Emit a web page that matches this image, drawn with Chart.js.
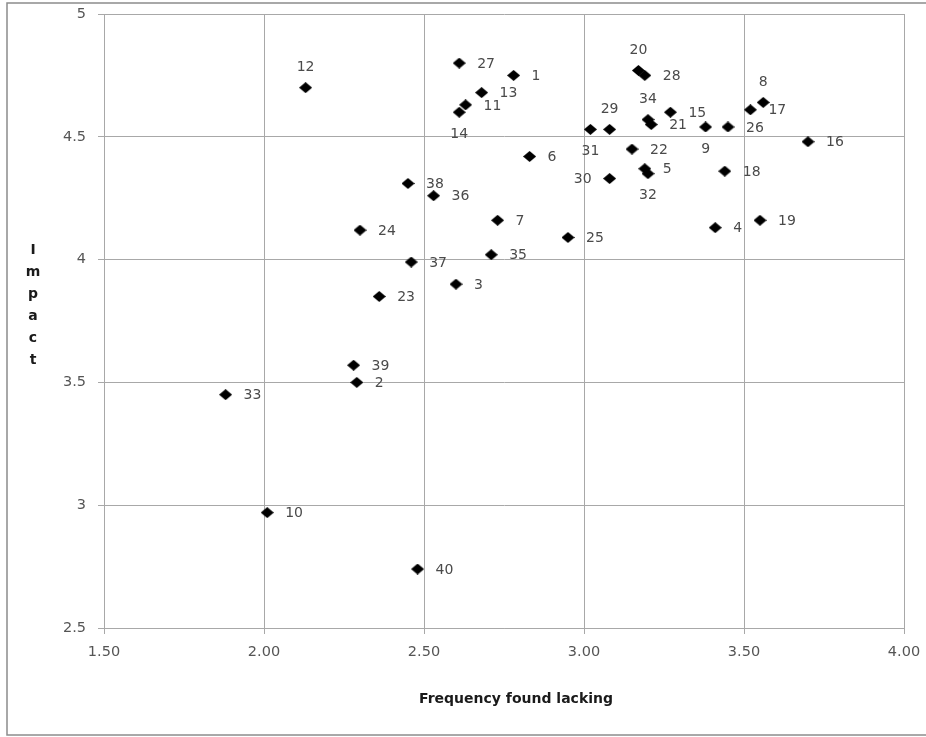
<!DOCTYPE html>
<html lang="en">
<head>
    <meta charset="UTF-8">
    <title>Impact vs frequency found lacking</title>
    <style>
        body {
            margin: 0;
            padding: 0;
            background: white;
        }
        .chart-container {
            width: 926px;
            height: 737px;
            position: relative;
        }
    </style>
    <script src="https://cdn.jsdelivr.net/npm/chart.js"></script>
</head>
<body>
    <div class="chart-container">
        <canvas id="chart"></canvas>
    </div>

    <script>
        // Item numbers and their scores
        const itemIds = [1, 2, 3, 4, 5, 6, 7, 8, 9, 10,
                         11, 12, 13, 14, 15, 16, 17, 18, 19, 20,
                         21, 22, 23, 24, 25, 26, 27, 28, 29, 30,
                         31, 32, 33, 34, 35, 36, 37, 38, 39, 40];
        const frequency = [2.78, 2.29, 2.60, 3.41, 3.19, 2.83, 2.73, 3.56, 3.38, 2.01,
                           2.63, 2.13, 2.68, 2.61, 3.27, 3.70, 3.52, 3.44, 3.55, 3.17,
                           3.21, 3.15, 2.36, 2.30, 2.95, 3.45, 2.61, 3.19, 3.08, 3.08,
                           3.02, 3.20, 1.88, 3.20, 2.71, 2.53, 2.46, 2.45, 2.28, 2.48];
        const impact = [4.75, 3.50, 3.90, 4.13, 4.37, 4.42, 4.16, 4.64, 4.54, 2.97,
                        4.63, 4.70, 4.68, 4.60, 4.60, 4.48, 4.61, 4.36, 4.16, 4.77,
                        4.55, 4.45, 3.85, 4.12, 4.09, 4.54, 4.80, 4.75, 4.53, 4.33,
                        4.53, 4.35, 3.45, 4.57, 4.02, 4.26, 3.99, 4.31, 3.57, 2.74];

        // Axis ticks
        const xTicks = [1.5, 2.0, 2.5, 3.0, 3.5, 4.0];
        const yTicks = [2.5, 3, 3.5, 4, 4.5, 5];

        // Where each item number sits next to its point
        const labelSide = {8: 'top', 12: 'top', 20: 'top', 29: 'top', 34: 'top',
                           9: 'bottom', 14: 'bottom', 31: 'bottom', 32: 'bottom',
                           30: 'left'};

        // Diamond marker, a little wider than tall
        const diamond = document.createElement('canvas');
        diamond.width = 13;
        diamond.height = 11;
        const dctx = diamond.getContext('2d');
        dctx.fillStyle = '#000';
        dctx.beginPath();
        dctx.moveTo(0, 5.5);
        dctx.lineTo(6.5, 0);
        dctx.lineTo(13, 5.5);
        dctx.lineTo(6.5, 11);
        dctx.closePath();
        dctx.fill();

        const points = itemIds.map((id, i) => ({ x: frequency[i], y: impact[i] }));

        // Frame, point numbers and axis titles
        const decorations = {
            id: 'decorations',
            beforeDraw(chart) {
                const ctx = chart.ctx;
                ctx.save();
                ctx.fillStyle = '#fff';
                ctx.fillRect(0, 0, chart.width, chart.height);
                ctx.strokeStyle = '#8c8c8c';
                ctx.lineWidth = 1.5;
                ctx.strokeRect(7, 3, chart.width + 10, 732);
                ctx.restore();
            },
            afterDatasetsDraw(chart) {
                const ctx = chart.ctx;
                const meta = chart.getDatasetMeta(0);
                ctx.save();
                ctx.font = '14px "DejaVu Sans"';
                ctx.fillStyle = '#4a4a4a';
                meta.data.forEach((pt, i) => {
                    const id = itemIds[i];
                    const side = labelSide[id] || 'right';
                    const text = String(id);
                    ctx.textBaseline = 'middle';
                    if (side === 'right') {
                        ctx.textAlign = 'left';
                        ctx.fillText(text, pt.x + 18, pt.y + 1);
                    } else if (side === 'left') {
                        ctx.textAlign = 'right';
                        ctx.fillText(text, pt.x - 18, pt.y + 1);
                    } else if (side === 'top') {
                        ctx.textAlign = 'center';
                        ctx.fillText(text, pt.x, pt.y - 20);
                    } else {
                        ctx.textAlign = 'center';
                        ctx.fillText(text, pt.x, pt.y + 22);
                    }
                });

                // axis titles
                ctx.fillStyle = '#1a1a1a';
                ctx.font = 'bold 14px "DejaVu Sans"';
                ctx.textAlign = 'center';
                ctx.textBaseline = 'middle';
                ctx.fillText('Frequency found lacking', 516, 699);
                'Impact'.split('').forEach((ch, k) => {
                    ctx.fillText(ch, 33, 250 + k * 22);
                });
                ctx.restore();
            }
        };

        new Chart(document.getElementById('chart'), {
            type: 'scatter',
            data: {
                datasets: [{
                    label: 'Items',
                    data: points,
                    pointStyle: diamond,
                    pointRadius: 6,
                    backgroundColor: '#000',
                    borderColor: '#000'
                }]
            },
            options: {
                responsive: true,
                maintainAspectRatio: false,
                animation: false,
                layout: {
                    padding: { left: 0, top: 14, right: 22, bottom: 0 }
                },
                plugins: {
                    legend: { display: false },
                    tooltip: { enabled: false }
                },
                scales: {
                    x: {
                        type: 'linear',
                        min: 1.5,
                        max: 4.0,
                        afterFit(scale) {
                            scale.height = 109;
                            scale.paddingLeft = 0;
                            scale.paddingRight = 0;
                        },
                        afterBuildTicks(scale) { scale.ticks = xTicks.map(v => ({ value: v })); },
                        grid: {
                            color: '#a8a8a8',
                            lineWidth: 1,
                            tickLength: 6,
                            tickColor: '#a8a8a8'
                        },
                        border: { color: '#a8a8a8' },
                        ticks: {
                            padding: 10,
                            color: '#555',
                            font: { family: 'DejaVu Sans', size: 14.5 },
                            callback: v => Number(v).toFixed(2)
                        }
                    },
                    y: {
                        type: 'linear',
                        min: 2.5,
                        max: 5,
                        afterFit(scale) {
                            scale.width = 104;
                            scale.paddingTop = 0;
                            scale.paddingBottom = 0;
                        },
                        afterBuildTicks(scale) { scale.ticks = yTicks.map(v => ({ value: v })); },
                        grid: {
                            color: '#a8a8a8',
                            lineWidth: 1,
                            tickLength: 6,
                            tickColor: '#a8a8a8'
                        },
                        border: { color: '#a8a8a8' },
                        ticks: {
                            padding: 12,
                            color: '#555',
                            font: { family: 'DejaVu Sans', size: 14.5 },
                            callback: v => String(v)
                        }
                    }
                }
            },
            plugins: [decorations]
        });
    </script>
</body>
</html>
